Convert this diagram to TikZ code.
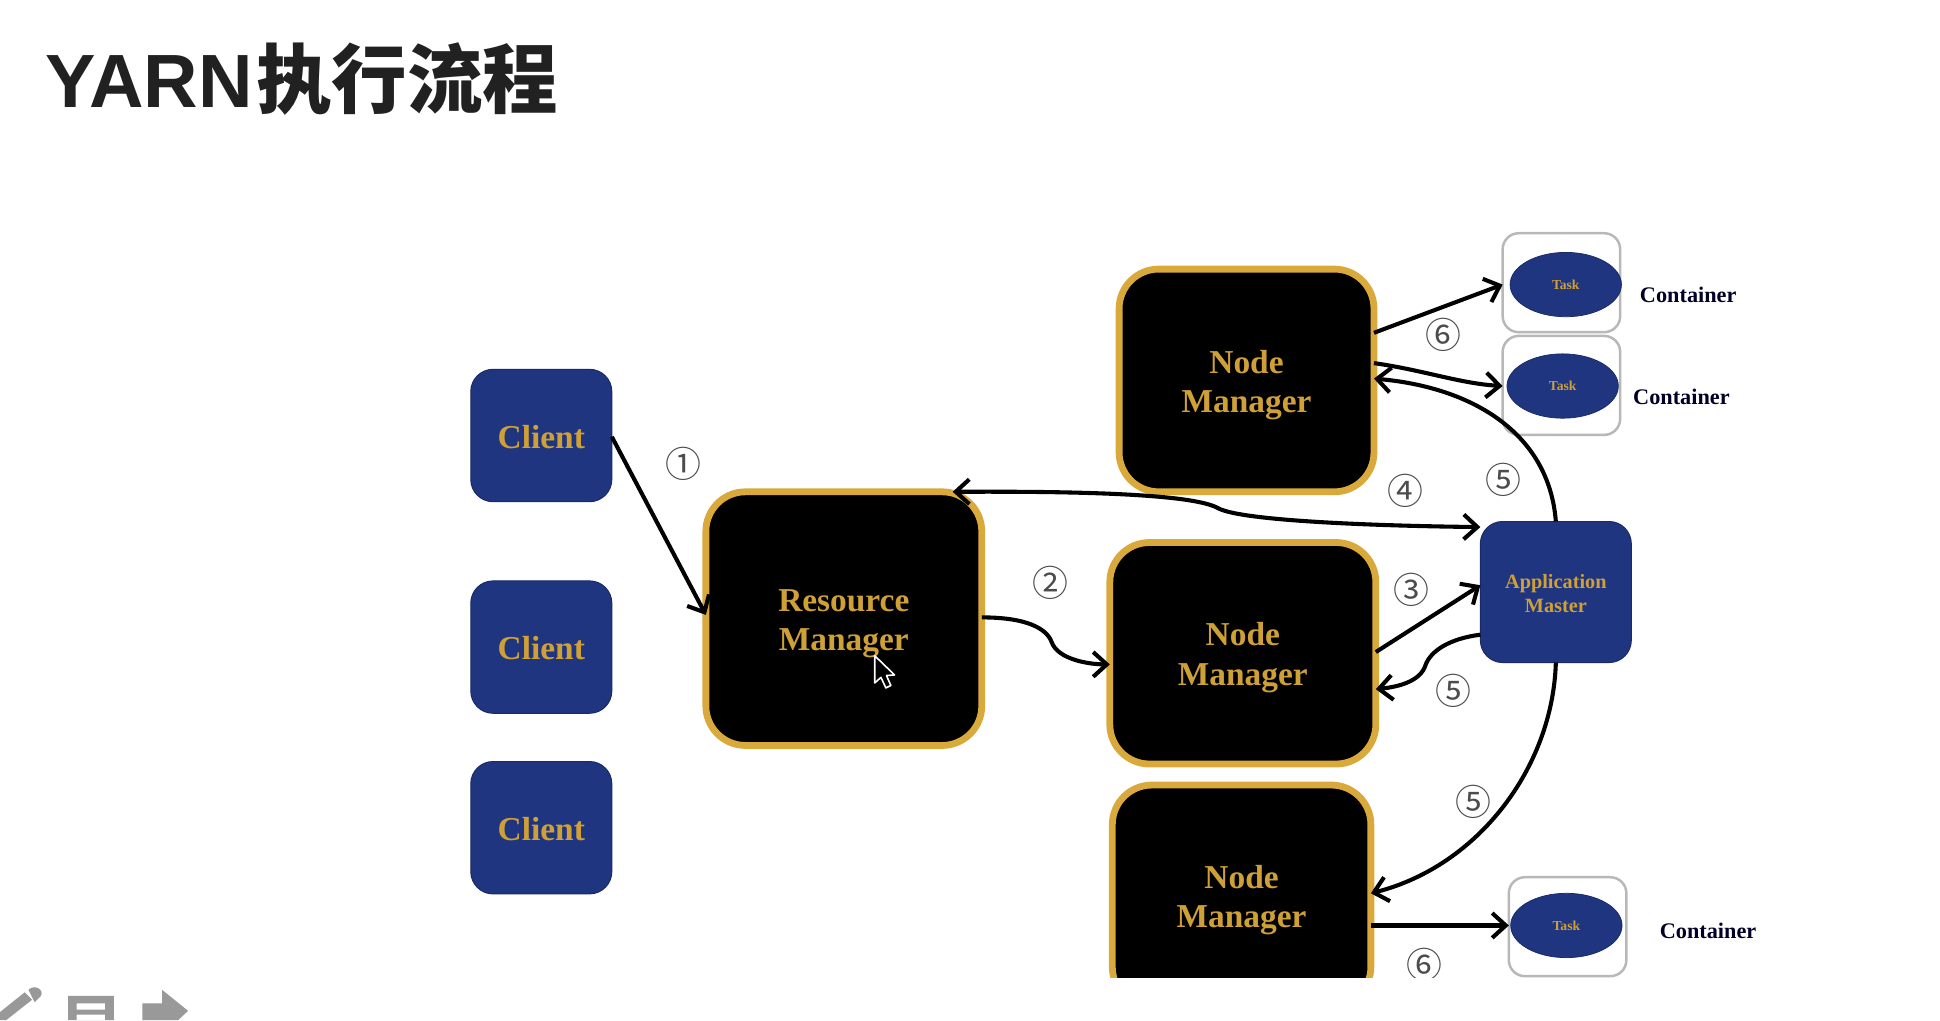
\documentclass[tikz,border=0pt]{standalone}
\usepackage{fontspec}
\setmainfont{Liberation Serif}
\newfontfamily\cjk{Noto Sans CJK SC}
\newfontfamily\latintitle{Liberation Sans}
\usetikzlibrary{arrows.meta,calc,shapes.geometric}
\definecolor{navy}{HTML}{1F3580}
\definecolor{gold}{HTML}{D9A93C}
\definecolor{txtgold}{HTML}{CFA036}
\tikzset{
  x=1pt,y=-1pt,
  every node/.style={inner sep=0pt,outer sep=0pt},
  bluebox/.style={rounded corners=18pt,fill=navy,draw=navy!80!black,line width=0.8pt,text=txtgold,font=\bfseries\fontsize{27}{32}\selectfont,align=center,text height=21pt},
  blackbox/.style={rounded corners=32pt,fill=black,draw=gold,line width=5.5pt,text=txtgold,font=\bfseries\fontsize{27}{32}\selectfont,align=center,text height=58pt},
  ambox/.style={bluebox,font=\bfseries\fontsize{16.4}{20}\selectfont,text height=34pt},
  conbox/.style={rounded corners=13pt,fill=white,draw=black!28,line width=2pt,minimum width=95pt,minimum height=80pt},
  taskell/.style={ellipse,fill=navy,draw=navy!80!black,line width=0.6pt,minimum width=90pt,minimum height=52pt,text=txtgold,font=\bfseries\fontsize{11}{13}\selectfont},
  conlabel/.style={text=black!85!blue,font=\bfseries\fontsize{18}{20}\selectfont},
  numlabel/.style={text=black!70,font=\cjk\fontsize{29}{30}\selectfont},
  link/.style={line width=3.3pt,black,-{Straight Barb[length=11pt,width=20pt]}},
  linkboth/.style={line width=3.3pt,black,{Straight Barb[length=11pt,width=20pt]}-{Straight Barb[length=11pt,width=20pt]}},
  icon/.style={fill=black!40,draw=none}
}
\begin{document}
\begin{tikzpicture}
\useasboundingbox (0,0) rectangle (1568,824.5);
\fill[white] (0,0) rectangle (1568,824.5);

\node[anchor=base west,text=black!87,font=\bfseries\fontsize{61}{61}\selectfont] (title) at (37,86.5) {\latintitle YARN\hspace{3pt}\cjk 执行流程};

% clients
\node[bluebox,minimum width=114pt,minimum height=107pt] (client1) at (437.5,352) {Client};
\node[bluebox,minimum width=114pt,minimum height=107pt] (client2) at (437.5,523) {Client};
\node[bluebox,minimum width=114pt,minimum height=107pt] (client3) at (437.5,669) {Client};

% managers
\node[blackbox,minimum width=223pt,minimum height=205pt] (rm) at (682,500) {Resource\\Manager};
\node[blackbox,minimum width=206pt,minimum height=180pt] (nm1) at (1007.5,307.5) {Node\\Manager};
\node[blackbox,minimum width=215pt,minimum height=179pt] (nm2) at (1004.5,528) {Node\\Manager};
\node[blackbox,minimum width=209pt,minimum height=179pt] (nm3) at (1003.5,724) {Node\\Manager};

\node[ambox,minimum width=122pt,minimum height=114pt] (am) at (1257.5,478.5) {Application\\Master};

% containers
\node[conbox] (c1) at (1262,228.5) {};
\node[conbox] (c2) at (1262,311.5) {};
\node[conbox] (c3) at (1267,749) {};
\node[taskell] (t1) at (1265.5,230) {Task};
\node[taskell] (t2) at (1263,312) {Task};
\node[taskell] (t3) at (1266,748) {Task};
\node[conlabel] (l1) at (1364.5,238) {Container};
\node[conlabel] (l2) at (1359,321) {Container};
\node[conlabel] (l3) at (1380.5,752) {Container};

% connectors
\draw[link] ([yshift=-1pt]client1.east) -- ([yshift=3pt]rm.west);
\draw[link] ([yshift=1pt]rm.east) .. controls (830,499) and (846,508) .. (850,519) .. controls (855,533) and (880,537) .. ([yshift=-9pt]nm2.west);
\draw[link] ([yshift=1pt]nm2.east) -- ([yshift=5.5pt]am.west);
\draw[linkboth] ([xshift=88pt]rm.north) .. controls (870,397) and (965,399) .. (985,411) .. controls (1005,421) and (1110,425) .. ([yshift=52.5pt]am.west);
\draw[link] (am.north) .. controls (1252,350) and (1190,313) .. ([yshift=1.5pt]nm1.east);
\draw[link] ([yshift=-34.5pt]am.west) .. controls (1172,516) and (1156,526) .. (1152,538) .. controls (1148,550) and (1132,555) .. ([yshift=-29pt]nm2.east);
\draw[link] (am.south) .. controls (1255,620) and (1195,700) .. ([yshift=2pt]nm3.east);
\draw[link] ([yshift=38.5pt]nm1.east) -- (c1.west |- t1.west);
\draw[link] ([yshift=14pt]nm1.east) .. controls (1150,299) and (1180,310) .. (c2.west |- t2.west);
\draw[link] ([yshift=-24pt]nm3.east) -- (c3.west |- t3.west);

% numbers
\node[numlabel] (n1) at (552,375) {①};
\node[numlabel] (n2) at (849,471) {②};
\node[numlabel] (n3) at (1141,477) {③};
\node[numlabel] (n4) at (1136,397) {④};
\node[numlabel] (n5a) at (1215,388) {⑤};
\node[numlabel] (n5b) at (1175,558) {⑤};
\node[numlabel] (n5c) at (1190.5,648) {⑤};
\node[numlabel] (n6a) at (1166.5,271) {⑥};
\node[numlabel] (n6b) at (1151,780) {⑥};

% the screenshot ends below the diagram
\fill[white] (880,790.5) rectangle (1440,824.5);

% cursor
\draw[fill=black,draw=white,line width=1.3pt,line join=round] (707,530) -- (707,552) -- (712,547.5) -- (716,556) -- (720,554) -- (716.5,546) -- (723,545.5) -- cycle;

% toolbar
\fill[icon] (0,818) -- (20,802) -- (26,808) -- (5,824.5) -- (0,824.5) -- cycle;
\fill[icon] (23,800) .. controls (28,795) and (36,800) .. (33,805) -- (28,810) -- cycle;
\fill[icon,even odd rule] (55,805) rectangle (92,824.5) (62,811) rectangle (85,816) (62,820) rectangle (85,824.5);
\fill[icon] (115,811) -- (131,811) -- (131,800) -- (152,817) -- (144,824.5) -- (115,824.5) -- cycle;
\end{tikzpicture}
\end{document}
